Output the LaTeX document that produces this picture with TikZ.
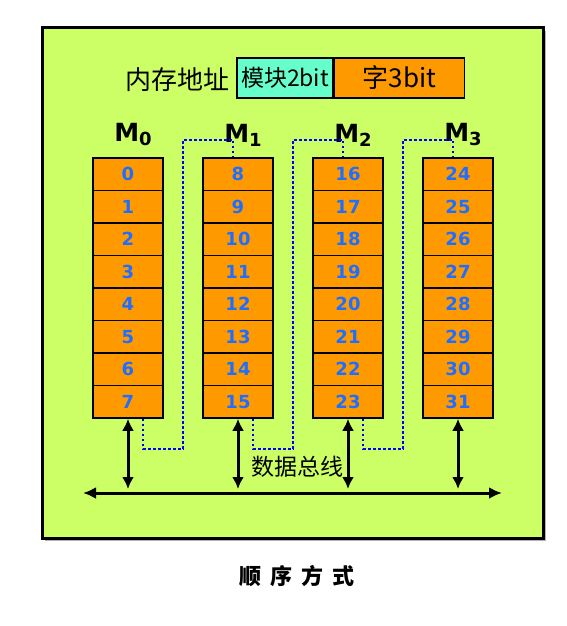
\documentclass[tikz,border=0pt]{standalone}
\usepackage{fontspec}
\setmainfont{DejaVu Sans}
\newfontfamily\cjk{Noto Sans CJK SC}
\usetikzlibrary{arrows.meta,positioning}
\definecolor{bgc}{RGB}{204,255,102}
\definecolor{cellc}{RGB}{255,153,0}
\definecolor{modc}{RGB}{102,255,204}
\definecolor{numc}{RGB}{30,110,255}

\begin{document}
\begin{tikzpicture}[x=1pt,y=-1pt]
  \tikzstyle{cell}=[draw,line width=1.5pt,fill=cellc,minimum width=70pt,
    minimum height=32.5pt,inner sep=0pt,text=numc,
    font=\bfseries\fontsize{18}{18}\selectfont]
  \tikzstyle{mlabel}=[font=\bfseries\fontsize{25}{25}\selectfont]
  \tikzstyle{field}=[draw,line width=1.5pt,minimum height=40pt,inner sep=0pt,
    font=\cjk\fontsize{23}{23}\selectfont]
  \tikzstyle{link}=[draw=blue,line width=2.5pt,dash pattern=on 2.5pt off 2.5pt]
  \tikzstyle{dbl}=[line width=3pt,{Latex[length=12pt,width=12pt]}-{Latex[length=12pt,width=12pt]}]
  \useasboundingbox (0,0) rectangle (566,626);
  % frame
  \fill[black!30] (45,31) rectangle (546,541);
  \draw[line width=3pt,fill=bgc] (42,28) rectangle (543,538);
  % address format
  \node[font=\cjk\fontsize{26}{26}\selectfont] (addr) at (177,80) {内存地址};
  \node[field,fill=modc,minimum width=96pt] (mod) at (285,78) {模块2bit};
  \node[field,fill=cellc,minimum width=130pt,right=0pt of mod,
    font=\cjk\fontsize{26}{26}\selectfont] (word) {字3bit};
  % memory modules
  \foreach \m in {0,...,3}{
    \node[mlabel] (m\m) at (133+110*\m,135) {M\raisebox{-4pt}{\fontsize{18}{18}\selectfont\m}};
    \foreach \r in {0,...,7}{
      \pgfmathtruncatemacro\n{8*\m+\r}
      \node[cell] (c\n) at (128+110*\m,174.25+32.5*\r) {\n};
    }
  }
  % address order
  \foreach \m [evaluate=\m as \a using int(8*\m+7),
               evaluate=\m as \b using int(8*\m+8)] in {0,1,2}
    \draw[link] ([xshift=15pt]c\a.south) -- ++(0,30) -- ++(40,0)
      -- ++(0,-309) -| ([xshift=-5pt]c\b.north);
  % data bus
  \coordinate (busL) at (83,493);
  \coordinate (busR) at (502,493);
  \draw[line width=3pt,{Latex[length=13pt,width=12pt]}-{Latex[length=13pt,width=12pt]}]
    (busL) -- (busR);
  \foreach \n in {7,15,23,31}
    \draw[dbl,shorten >=4pt] (c\n.south) -- (c\n.south |- busL);
  \node[font=\cjk\fontsize{23}{23}\selectfont] (bus) at (297,467) {数据总线};
  % caption
  \node[font=\cjk\bfseries\fontsize{22}{22}\selectfont] (cap) at (297,576)
    {顺\hspace{9pt}序\hspace{9pt}方\hspace{9pt}式};
\end{tikzpicture}
\end{document}
